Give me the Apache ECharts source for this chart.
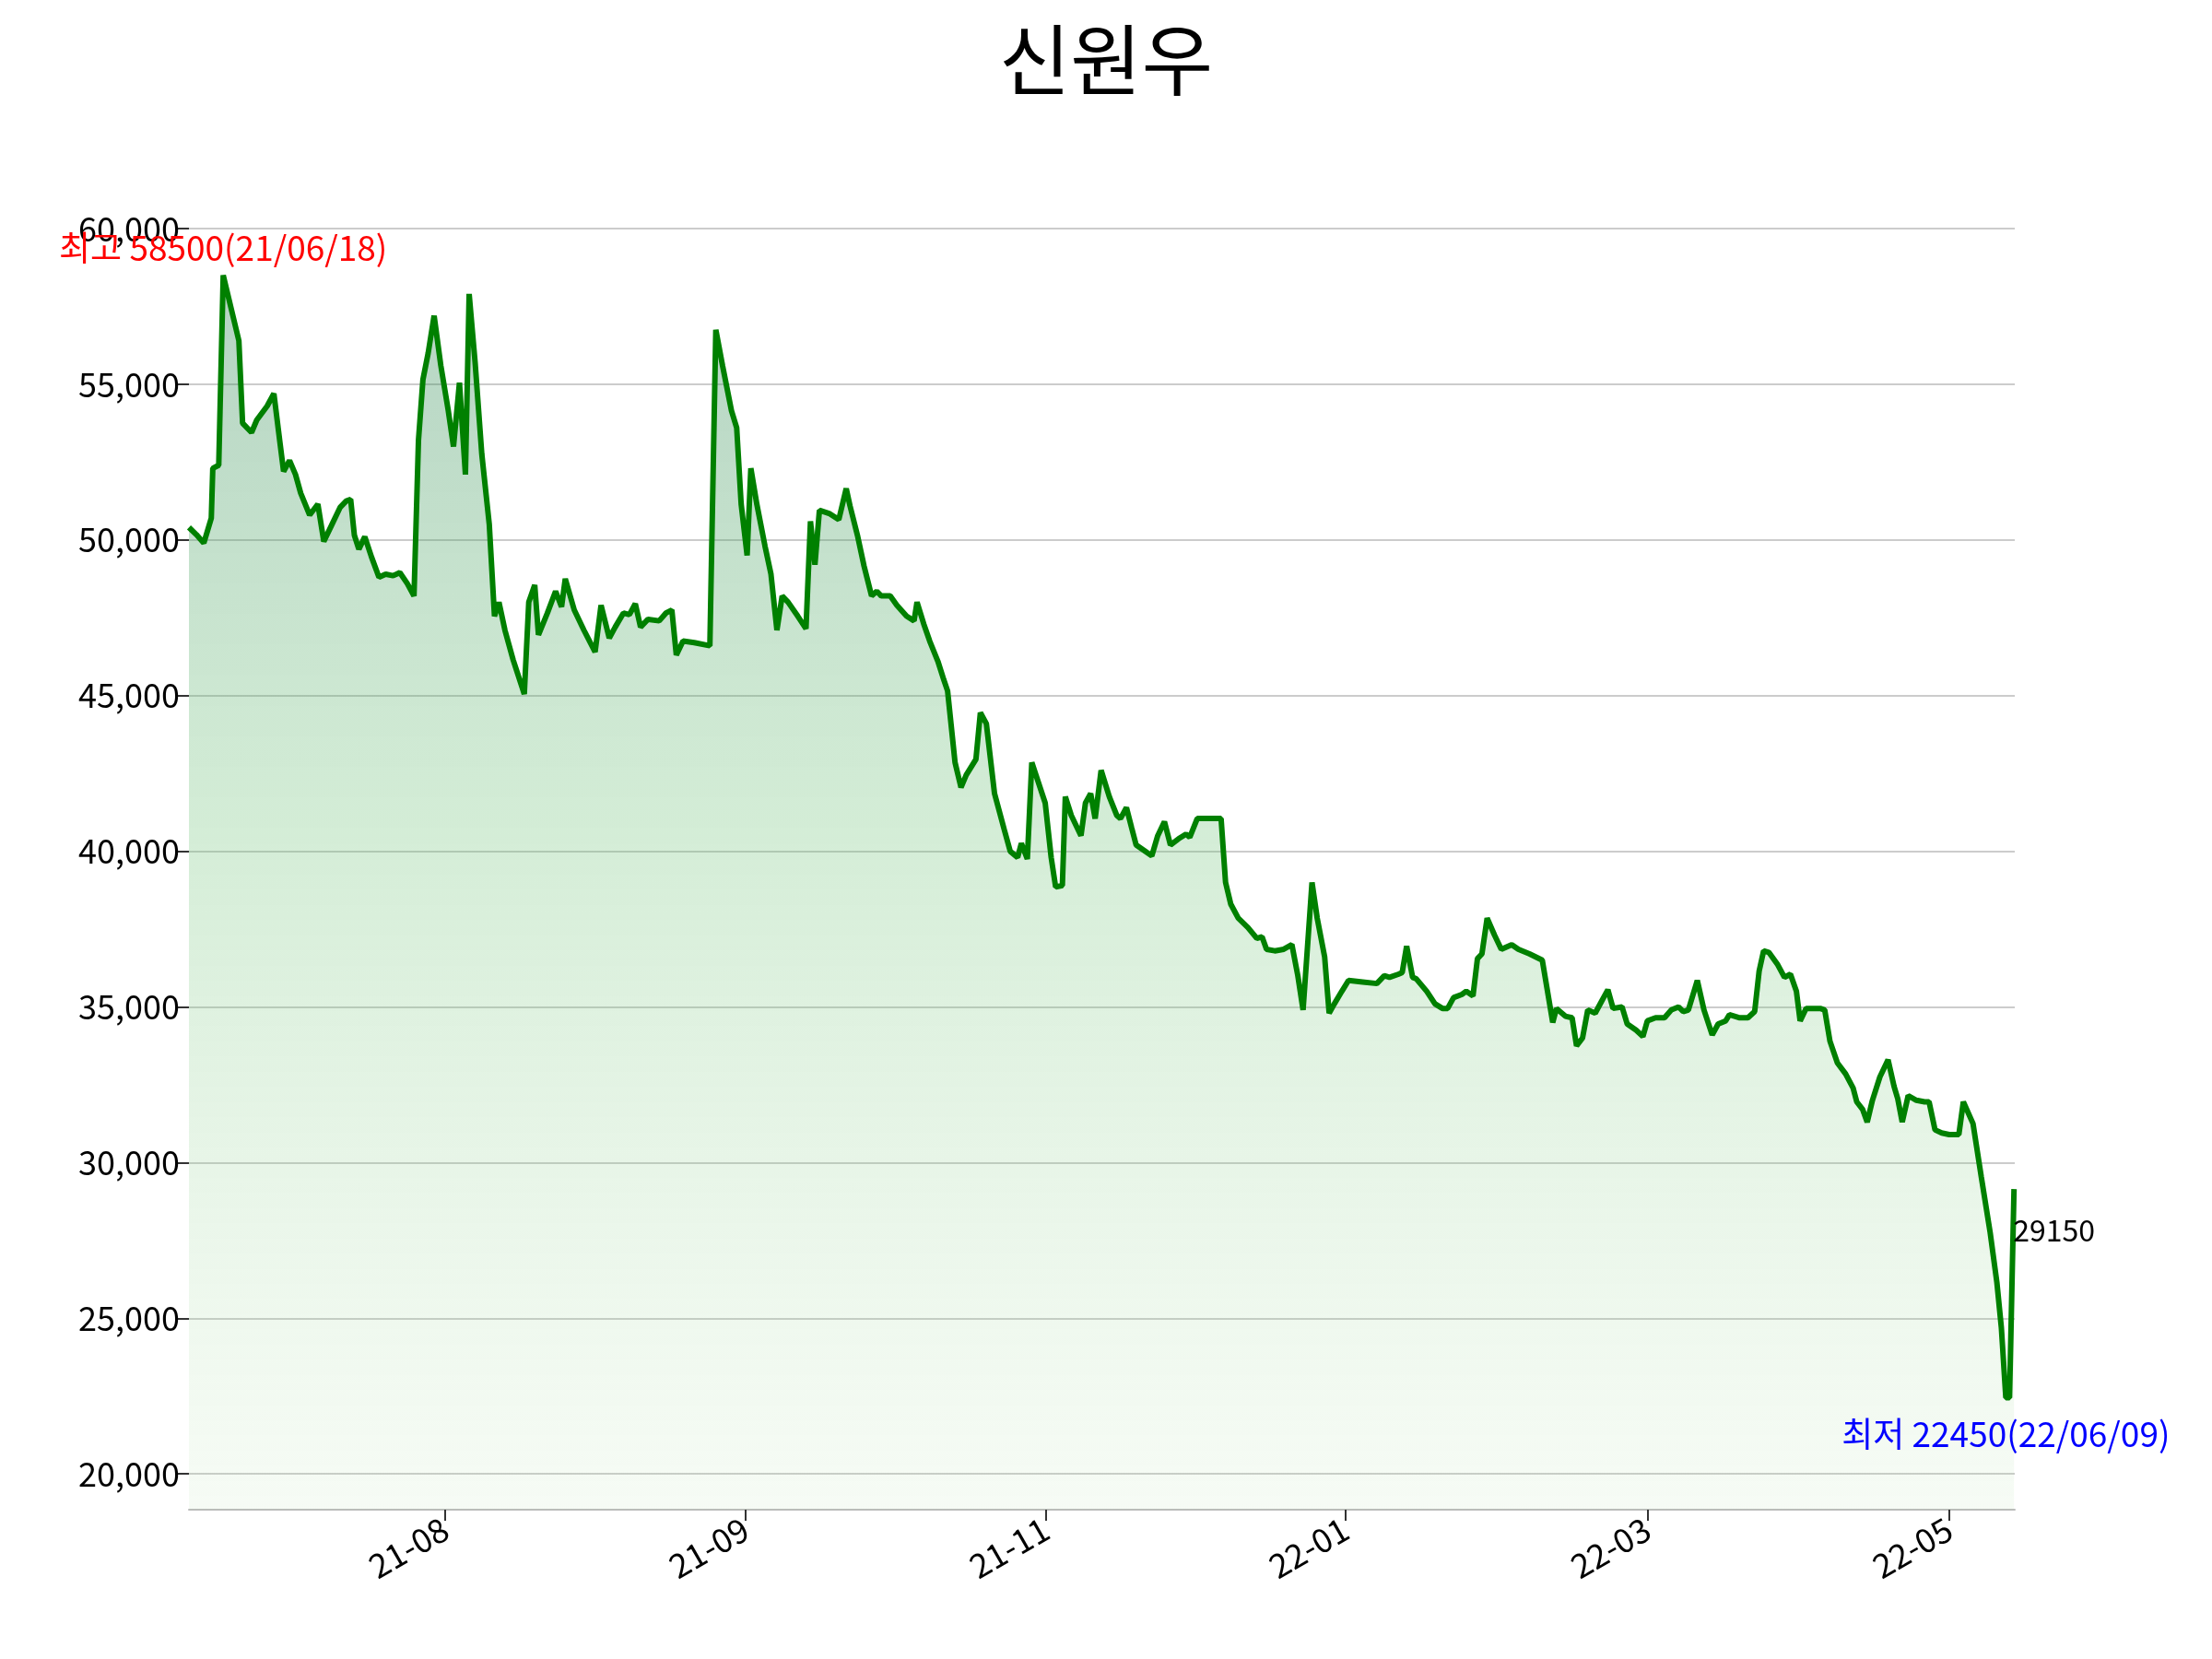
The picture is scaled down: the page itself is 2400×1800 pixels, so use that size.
<!DOCTYPE html>
<html><head><meta charset="utf-8">
<script src="https://cdn.jsdelivr.net/npm/echarts@6/dist/echarts.min.js"></script>
<style>html,body{margin:0;padding:0;background:#fff}#c{width:2400px;height:1800px}</style>
</head><body><div id="c"></div>
<script>
// 거래일 인덱스, 종가
var dayIdx = [0,1,2,3,3.2,4,4.6,5.7,6.7,7.2,8.4,9.1,10.5,11.4,12.2,12.7,13.5,14.3,15,16.2,17.3,18.1,19.2,20.3,21.1,21.7,22.2,22.8,23.6,24.5,25.5,26.4,27.4,28.3,29.3,30.2,30.8,31.4,32.1,32.9,33.8,34.8,35.5,36.3,37.1,37.6,38.4,39.3,40.3,41,41.6,42.4,43.5,45,45.6,46.4,46.9,48.1,49.2,50,50.5,51.7,53,54.5,55.3,56.4,57.2,58.3,59.1,59.9,60.6,61.6,63.1,64,64.8,65.4,66.3,67.8,69.9,70.7,71.6,72.8,73.5,74.1,74.9,75.4,76.2,77.3,78.1,78.9,79.6,80.4,81.7,82.8,83.4,84,84.6,85.9,87.2,88.2,88.7,89.7,90.6,91.6,92.3,92.9,94.1,95,96.3,97.3,97.7,98.6,99.4,100.5,101.3,101.8,102.8,103.6,104.3,105.6,106.2,107,108.1,109.4,110.2,111.2,111.7,112.5,113.1,114,114.9,115.7,116.3,117.2,117.6,118.4,119.7,120.3,121,121.6,122.4,123.5,124.5,125,125.8,126.5,127.1,128.3,129.2,130,130.9,131.7,132.8,133.8,134.3,135.3,136.2,137.6,138.5,139.1,139.8,140.8,142.1,143.3,144,144.6,145.7,146.9,148,148.8,149.5,150.7,151.4,152.4,153,153.7,154.7,155.6,157.5,159.4,160.4,161.1,162.3,162.8,163.4,164.2,164.7,166.1,167.2,168.2,168.9,169.7,170.8,171.4,172.3,172.9,173.5,174.2,175.2,176.1,177.5,178.4,179.9,181.6,183,183.5,184.7,185.6,186.2,187,187.7,188.7,189.6,190.4,191.1,192.3,193,194.2,195.1,195.7,196.8,198,198.9,199.9,200.5,201.2,202.4,203.3,204.4,205.2,206.2,206.7,208.1,209.2,210.1,210.7,211.3,212,213.2,214.1,214.9,215.7,216.2,217,218.9,219.5,220.2,221.2,222.3,223.3,223.8,224.6,225.2,225.9,226.9,228,228.8,229.3,229.9,230.7,231.8,232.9,233.5,234.3,235.2,236.2,237.5,238.1,239.4,240.5,241.7,242.6,243.2,243.8,244.3,244.9];
var closePrice = [50400,50170,49900,50700,52300,52400,58500,57400,56400,53750,53450,53850,54300,54700,53150,52200,52550,52100,51500,50800,51150,49950,50500,51050,51250,51300,50150,49700,50100,49450,48800,48900,48850,48950,48600,48200,53200,55150,56000,57200,55600,54150,53000,55050,52100,57900,55700,52750,50500,47550,48000,47100,46150,45050,48000,48550,46950,47650,48350,47850,48750,47750,47100,46400,47900,46850,47200,47650,47600,47950,47200,47450,47400,47650,47750,46300,46750,46700,46600,56750,55600,54150,53600,51150,49500,52300,51150,49800,48900,47100,48200,48000,47550,47150,50600,49200,50950,50850,50650,51650,51100,50150,49150,48200,48350,48200,48200,47900,47550,47400,48000,47300,46750,46100,45500,45150,42850,42050,42450,42950,44450,44100,41850,40700,40000,39800,40250,39750,42850,42200,41550,39800,38850,38900,41750,41150,40500,41550,41850,41050,42600,41750,41150,41050,41400,40750,40200,40000,39850,40500,40950,40200,40400,40550,40450,41050,41050,41050,41050,39000,38300,37850,37550,37200,37250,36850,36800,36850,37000,36000,34900,39000,37850,36600,34800,35100,35500,35850,35800,35750,36000,35950,36050,36100,36950,35950,35900,35500,35100,34950,34950,35300,35400,35500,35350,36550,36700,37850,37300,36850,37000,36850,36700,36500,34500,34950,34700,34650,33750,34000,34900,34800,35200,35550,34950,35000,34450,34250,34050,34550,34650,34650,34900,35000,34850,34900,35850,34900,34100,34450,34550,34750,34650,34650,34850,36150,36800,36750,36350,35950,36050,35500,34550,34950,34950,34900,33900,33200,32850,32400,31950,31700,31300,32000,32750,33300,32450,32050,31300,32150,32000,31950,31950,31050,30950,30900,30900,31950,31250,29550,27750,26150,24700,22450,22450,29150];
var xTickIdx = [34.4,74.7,115,155.2,195.7,236.2];
var xTickLabels = ['21-08','21-09','21-11','22-01','22-03','22-05'];
var yTicks = [20000,25000,30000,35000,40000,45000,50000,55000,60000];
var maxText = '최고 58500(21/06/18)';
var minText = '최저 22450(22/06/09)';

var FONT = '"Noto Sans CJK KR", "Noto Sans", sans-serif';
var seriesData = dayIdx.map(function(d, i){ return [d, closePrice[i]]; });
var maxI = closePrice.indexOf(Math.max.apply(null, closePrice));
var minI = closePrice.indexOf(Math.min.apply(null, closePrice));
var lastI = closePrice.length - 1;

var chart = echarts.init(document.getElementById('c'));
chart.setOption({
    animation: false,
    title: {text: '신원우', left: 'center', top: 18,
        textStyle: {fontFamily: FONT, fontSize: 84, fontWeight: 'normal', color: '#000'}},
    grid: {left: 205, right: 214, top: 248, bottom: 162},
    xAxis: {
        type: 'value', min: 0, max: 245,
        axisLine: {lineStyle: {color: '#bbb', width: 2}},
        axisTick: {customValues: xTickIdx, length: 12, lineStyle: {color: '#333', width: 2}},
        axisLabel: {customValues: xTickIdx, rotate: 30, fontFamily: FONT, fontSize: 36, color: '#000', margin: 18,
            formatter: function(v){ var k = xTickIdx.indexOf(v); return k >= 0 ? xTickLabels[k] : ''; }},
        splitLine: {show: false}
    },
    yAxis: {
        type: 'value', min: 18850, max: 60000,
        axisLine: {show: false},
        axisTick: {show: true, customValues: yTicks, length: 14, lineStyle: {color: '#333', width: 2}},
        axisLabel: {customValues: yTicks, fontFamily: FONT, fontSize: 36, color: '#000', margin: 10,
            formatter: function(v){ return v.toLocaleString('en-US'); }},
        splitLine: {show: true, lineStyle: {color: '#ccc', width: 2}}
    },
    series: [{
        type: 'line', data: seriesData, symbol: 'none',
        lineStyle: {color: '#008000', width: 6},
        areaStyle: {color: new echarts.graphic.LinearGradient(0, 0, 0, 1, [
            {offset: 0, color: 'rgba(40,130,80,0.5)'},
            {offset: 0.45, color: 'rgba(100,190,110,0.4)'},
            {offset: 1, color: 'rgba(170,220,160,0.15)'}])},
        markPoint: {
            symbol: 'circle', symbolSize: 0,
            data: [
                {coord: seriesData[maxI], label: {formatter: maxText, color: '#ff0000', offset: [0, -30]}},
                {coord: seriesData[minI], label: {formatter: minText, color: '#0000ff', offset: [0, 40]}},
                {coord: seriesData[lastI], label: {formatter: String(closePrice[lastI]), color: '#000', fontSize: 32, position: 'right', offset: [-6, 45]}}
            ],
            label: {show: true, fontFamily: FONT, fontSize: 37}
        }
    }]
});
</script></body></html>
